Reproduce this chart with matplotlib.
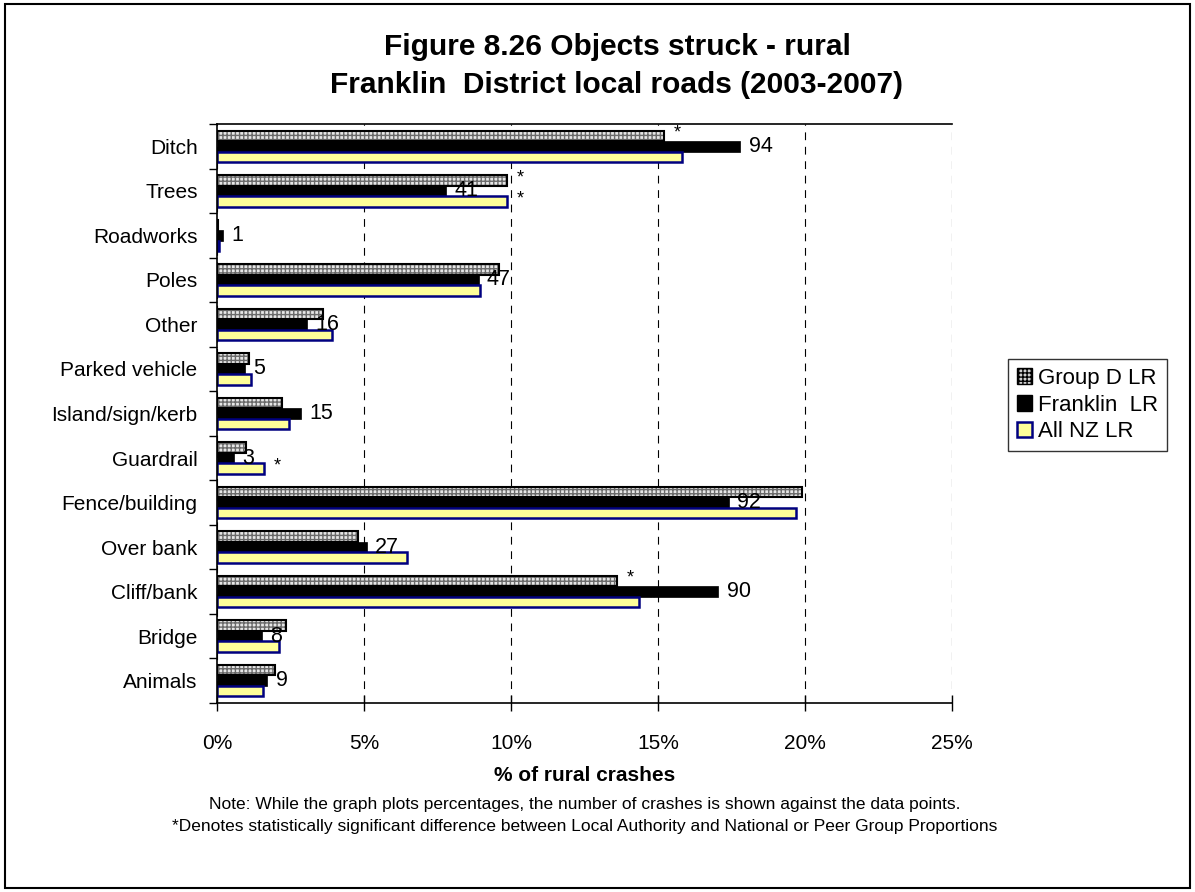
import numpy as np
import matplotlib
matplotlib.use('Agg')
import matplotlib.pyplot as plt
from matplotlib.patches import Rectangle, Patch

plt.rcParams['font.family'] = ['Liberation Sans', 'DejaVu Sans']

# DATA (% of rural crashes)
categories = ['Ditch', 'Trees', 'Roadworks', 'Poles', 'Other', 'Parked vehicle',
              'Island/sign/kerb', 'Guardrail', 'Fence/building', 'Over bank',
              'Cliff/bank', 'Bridge', 'Animals']
group_d = [15.2, 9.87, 0.05, 9.6, 3.6, 1.1, 2.2, 1.0, 19.9, 4.8, 13.6, 2.34, 1.98]
franklin = [17.8, 7.8, 0.19, 8.9, 3.05, 0.95, 2.85, 0.57, 17.4, 5.1, 17.05, 1.52, 1.71]
all_nz = [15.8, 9.87, 0.07, 8.95, 3.9, 1.14, 2.44, 1.6, 19.7, 6.45, 14.35, 2.1, 1.58]
counts = [94, 41, 1, 47, 16, 5, 15, 3, 92, 27, 90, 8, 9]
# significance markers
star_group_d = [1, 1, 0, 0, 0, 0, 0, 0, 0, 0, 1, 0, 0]
star_all_nz = [0, 1, 0, 0, 0, 0, 0, 1, 0, 0, 1, 0, 0]
xticks = [0, 5, 10, 15, 20, 25]

fig = plt.figure(figsize=(11.95, 8.92), dpi=100)
ax = fig.add_axes([217/1195, 1 - 703/892, (952-217)/1195, (703-124)/892])

y = np.arange(len(categories))
h = 0.235

# Group D - dotted pattern
ax.barh(y - h, group_d, height=h, color='#e6e6e6', edgecolor='#6a6a6a',
        hatch='++++', linewidth=0)
ax.barh(y - h, group_d, height=h, fill=False, edgecolor='black', linewidth=1.5)
# Franklin - black
ax.barh(y, franklin, height=h, color='black', edgecolor='black', linewidth=0.5)
# All NZ - pale yellow, navy outline
ax.barh(y + h, all_nz, height=h, color='#ffff99', edgecolor='#000080', linewidth=1.8)

# crash counts next to Franklin bars
for i in range(len(categories)):
    ax.annotate(str(counts[i]), (franklin[i], y[i]), xytext=(6, 0),
                textcoords='offset points', va='center', ha='left', fontsize=15.5)
    if star_group_d[i]:
        ax.annotate('*', (group_d[i], y[i] - h), xytext=(7, 2),
                    textcoords='offset points', va='center', ha='left', fontsize=13)
    if star_all_nz[i]:
        ax.annotate('*', (all_nz[i], y[i] + h), xytext=(7, 2),
                    textcoords='offset points', va='center', ha='left', fontsize=13)

ax.set_xlim(0, 25)
ax.set_ylim(len(categories) - 0.5, -0.5)
ax.set_xticks(xticks)
ax.set_xticklabels([f'{t}%' for t in xticks], fontsize=15)
ax.set_yticks(y)
ax.set_yticklabels(categories, fontsize=15)
ax.set_yticks(np.arange(len(categories) + 1) - 0.5, minor=True)
ax.tick_params(axis='y', which='major', length=0, pad=14)
ax.tick_params(axis='y', which='minor', length=6, direction='out', width=1)
ax.tick_params(axis='x', length=12, direction='inout', width=1, pad=16)

ax.xaxis.grid(True, linestyle=(0, (7, 6)), color='black', linewidth=0.8)
ax.set_axisbelow(True)
ax.spines['right'].set_visible(False)
for s in ['left', 'bottom', 'top']:
    ax.spines[s].set_linewidth(1.2)

ax.set_xlabel('% of rural crashes', fontsize=15, fontweight='bold', labelpad=10)

# title
fig.text(617/1195, 1 - 66/892, 'Figure 8.26 Objects struck - rural\nFranklin  District local roads (2003-2007)',
         ha='center', va='center', fontsize=21.5, fontweight='bold', linespacing=1.45)

# notes
fig.text(585/1195, 1 - 805/892,
         'Note: While the graph plots percentages, the number of crashes is shown against the data points.',
         ha='center', va='center', fontsize=12.5)
fig.text(585/1195, 1 - 827/892,
         '*Denotes statistically significant difference between Local Authority and National or Peer Group Proportions',
         ha='center', va='center', fontsize=12.5)

# legend
handles = [Patch(facecolor='#d0d0d0', edgecolor='black', hatch='++++'),
           Patch(facecolor='black', edgecolor='black'),
           Patch(facecolor='#ffff99', edgecolor='#000080', linewidth=1.8)]
fig.legend(handles, ['Group D LR', 'Franklin  LR', 'All NZ LR'],
           loc='center left', bbox_to_anchor=(1008/1195, 1 - 405/892),
           fontsize=16, frameon=True, fancybox=False, edgecolor='black',
           handlelength=0.7, handleheight=0.7, handletextpad=0.25,
           labelspacing=0.25, borderpad=0.4, borderaxespad=0)

# outer chart border
fig.patches.append(Rectangle((0.004, 0.004), 0.992, 0.992, transform=fig.transFigure,
                             fill=False, edgecolor='black', linewidth=1.5))

fig.savefig('out.png', dpi=100)
